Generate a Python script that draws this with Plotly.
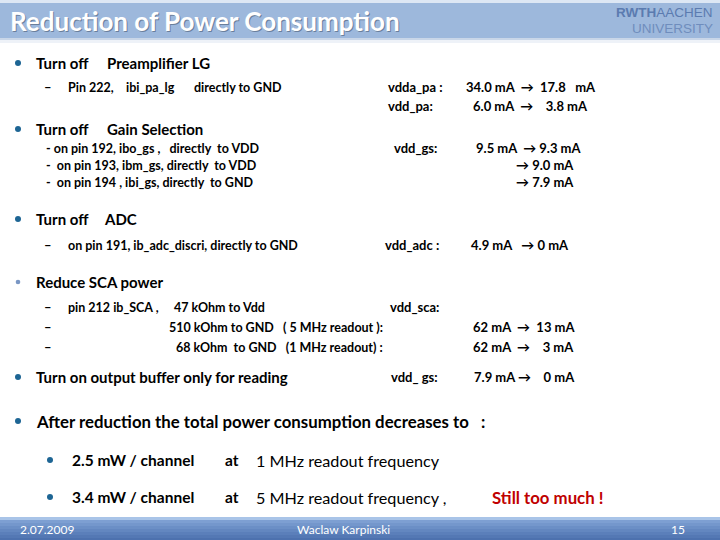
import plotly.graph_objects as go

# slide text
title = "Reduction of Power Consumption"
actions = ["Turn off", "Turn off", "Turn off", "Reduce SCA power", "Turn on output buffer only for reading"]
targets = ["Preamplifier LG", "Gain Selection", "ADC", "", ""]
details_pa = ["Pin 222,", "ibi_pa_lg", "directly to GND"]
details_gs = ["- on pin 192, ibo_gs ,   directly  to VDD",
              "-  on pin 193, ibm_gs, directly  to VDD",
              "-  on pin 194 , ibi_gs, directly  to GND"]
details_adc = "on pin 191, ib_adc_discri, directly to GND"
details_sca = ["pin 212 ib_SCA ,", "47 kOhm to Vdd",
               "510 kOhm to GND   ( 5 MHz readout ):",
               "68 kOhm  to GND   (1 MHz readout) :"]

# supply currents in mA (before -> after)
supplies = ["vdda_pa :", "vdd_pa:", "vdd_gs:", "vdd_adc :", "vdd_sca:", "vdd_ gs:"]
pa_before = [34.0, 6.0]
pa_after = [17.8, 3.8]
gs_before = 9.5
gs_after = [9.3, 9.0, 7.9]
adc_before, adc_after = 4.9, 0
sca_before = [62, 62]
sca_after = [13, 3]
buf_before, buf_after = 7.9, 0

power_mw = [2.5, 3.4]
readout_mhz = [1, 5]
summary = "After reduction the total power consumption decreases to   :"
footer = ["2.07.2009", "Waclaw Karpinski", "15"]

FONT = "Lato"
ann = []


def txt(x, y, s, size=13, bold=True, color="black", anchor="left", font=FONT):
    if bold:
        s = "<b>" + s + "</b>"
    ann.append(dict(x=x, y=y, xref="x", yref="y", text=s, showarrow=False,
                    xanchor=anchor, yanchor="middle",
                    font=dict(family=font, size=size, color=color)))


shapes = []


def rect(x0, y0, x1, y1, color):
    shapes.append(dict(type="rect", x0=x0, y0=y0, x1=x1, y1=y1, xref="x", yref="y",
                       line=dict(width=0), fillcolor=color, layer="below"))


def dot(x, y, r, color):
    shapes.append(dict(type="circle", x0=x - r, y0=y - r, x1=x + r, y1=y + r,
                       xref="x", yref="y", line=dict(width=0), fillcolor=color))


# header band
rect(0, 0, 720, 3, "#dde7f4")
rect(0, 3, 720, 38, "#9db8dc")
rect(0, 38, 720, 40, "#c9d6e8")
rect(0, 40, 720, 43, "#eef2f8")
txt(9, 22, title, size=26, color="#6a7f9c")
txt(8, 21, title, size=26, color="white")
txt(715, 12, "<b>RWTH</b>AACHEN", size=13.5, bold=False, color="#5b7bb0", anchor="right",
    font="Liberation Sans")
txt(715, 28, "UNIVERSITY", size=13.5, bold=False, color="#6f8dbd", anchor="right",
    font="Liberation Sans")

# footer band
grad = ["#a9c4e8", "#7d9fd2", "#7497cc", "#6b8fc6", "#6387c0", "#5b7fba", "#5478b4", "#4d71ae"]
for i, c in enumerate(grad):
    rect(0, 517 + i * 3, 720, 520 + i * 3, c)
txt(18, 529, footer[0], size=12, bold=False, color="white")
txt(343, 529, footer[1], size=12, bold=False, color="white", anchor="center")
txt(687, 529, footer[2], size=12, bold=False, color="white", anchor="right")

BUL = "#1d6594"
bullet_y = [63, 129, 219, 282, 377]
for i, y in enumerate(bullet_y):
    if i == 3:
        dot(18, y, 2.3, "#7a97c4")
    else:
        dot(18, y, 3, BUL)
    txt(34, y, actions[i], size=15)
target_x = [105, 105, 102]
for i in range(3):
    txt(target_x[i], bullet_y[i], targets[i], size=15)

# preamplifier
txt(42, 87, "–", size=13)
for x, s in zip([66, 124, 192], details_pa):
    txt(x, 87, s, size=12.5)
txt(386, 87, supplies[0], size=13)
txt(386, 106, supplies[1], size=13)
txt(464, 87, f"{pa_before[0]:.1f} mA  →  {pa_after[0]:.1f}   mA", size=13)
txt(471, 106, f"{pa_before[1]:.1f} mA  →    {pa_after[1]:.1f} mA", size=13)

# gain selection
for y, s in zip([148, 165, 182], details_gs):
    txt(44, y, s, size=12.5)
txt(392, 148, supplies[2], size=13)
txt(474, 148, f"{gs_before:.1f} mA  → {gs_after[0]:.1f} mA", size=13)
txt(576, 165, f"→ {gs_after[1]:.1f} mA", size=13, anchor="right")
txt(576, 182, f"→ {gs_after[2]:.1f} mA", size=13, anchor="right")

# ADC
txt(42, 245, "–", size=13)
txt(66, 245, details_adc, size=12.5)
txt(383, 245, supplies[3], size=13)
txt(469, 245, f"{adc_before:.1f} mA   → {adc_after} mA", size=13)

# SCA
for y in [307, 327, 347]:
    txt(42, y, "–", size=13)
txt(66, 307, details_sca[0], size=12.5)
txt(172, 307, details_sca[1], size=12.5)
txt(385, 327, details_sca[2], size=12.5, anchor="right")
txt(385, 347, details_sca[3], size=12.5, anchor="right")
txt(388, 307, supplies[4], size=13)
txt(471, 327, f"{sca_before[0]} mA  →  {sca_after[0]} mA", size=13)
txt(471, 347, f"{sca_before[1]} mA  →    {sca_after[1]} mA", size=13)

# output buffer
txt(389, 377, supplies[5], size=13)
txt(472, 377, f"{buf_before:.1f} mA →    {buf_after} mA", size=13)

# summary
dot(18, 421, 3, BUL)
txt(34, 421, summary, size=16.8)
for y, p, f in zip([460, 497], power_mw, readout_mhz):
    dot(50, y, 3, BUL)
    txt(70, y, f"{p} mW / channel", size=15.5)
    txt(223, y, "at", size=15.5)
    txt(254, y, f"{f} MHz readout frequency" + (" ," if f == 5 else ""), size=16.2, bold=False)
txt(490, 497, "Still too much !", size=16.8, color="#c00000")

fig = go.Figure()
fig.update_layout(
    width=720, height=540, margin=dict(l=0, r=0, t=0, b=0),
    paper_bgcolor="white", plot_bgcolor="white",
    xaxis=dict(range=[0, 720], visible=False, fixedrange=True),
    yaxis=dict(range=[540, 0], visible=False, fixedrange=True),
    annotations=ann, shapes=shapes, showlegend=False,
)
fig.write_html("out.html", config={"displayModeBar": False},
               post_script="document.body.style.margin='0px';")
